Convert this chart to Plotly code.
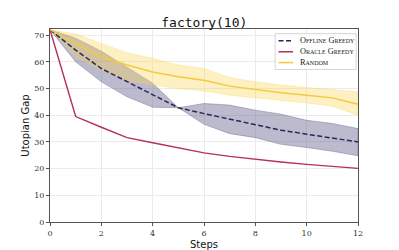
import plotly.graph_objects as go

steps = list(range(13))
offline_mean = [72, 64.4, 57.5, 52.5, 47.5, 42.8, 40.6, 38.6, 36.5, 34.4, 32.9, 31.5, 30.0]
offline_upper = [72, 68.8, 64.0, 58.1, 52.0, 42.8, 44.4, 43.8, 41.9, 40.4, 38.1, 36.9, 35.0]
offline_lower = [72, 60.0, 52.5, 46.9, 43.0, 42.8, 36.6, 33.1, 31.6, 29.1, 27.9, 26.5, 24.8]
oracle_mean = [72, 39.5, 35.5, 31.6, 29.7, 27.7, 25.9, 24.6, 23.5, 22.5, 21.6, 20.8, 20.1]
random_mean = [72, 66.9, 61.9, 58.8, 56.2, 54.4, 53.1, 50.9, 49.6, 48.4, 47.5, 46.5, 44.1]
random_upper = [72, 70.4, 66.9, 63.4, 61.3, 58.8, 57.5, 54.1, 52.5, 51.3, 50.4, 49.6, 48.8]
random_lower = [72, 62.0, 56.9, 53.1, 51.3, 50.0, 49.1, 47.5, 46.5, 45.6, 44.6, 43.4, 40.0]

names = ["Offline Greedy", "Oracle Greedy", "Random"]
colors = ["#2b2756", "#b3305f", "#f7c83c"]
dashes = ["5px,2.5px", "solid", "solid"]

fig = go.Figure()
fig.add_trace(go.Scatter(x=steps + steps[::-1], y=offline_upper + offline_lower[::-1],
                         fill="toself", fillcolor="rgba(88,82,130,0.40)",
                         line=dict(color="rgba(88,82,130,0.6)", width=0.6),
                         showlegend=False, hoverinfo="skip"))
fig.add_trace(go.Scatter(x=steps + steps[::-1], y=random_upper + random_lower[::-1],
                         fill="toself", fillcolor="rgba(250,212,80,0.35)",
                         line=dict(color="rgba(250,212,80,0.5)", width=0.6),
                         showlegend=False, hoverinfo="skip"))
for name, ys, col, dsh in zip(names, [offline_mean, oracle_mean, random_mean], colors, dashes):
    fig.add_trace(go.Scatter(x=steps, y=ys, mode="lines", name=name, showlegend=False,
                             line=dict(color=col, width=1.5 if dsh != "solid" else 1.4, dash=dsh)))

# manual compact legend (paper coordinates)
fig.add_shape(type="rect", xref="paper", yref="paper", x0=0.731, x1=0.994, y0=0.79, y1=0.976,
              line=dict(color="#cccccc", width=0.8), fillcolor="rgba(255,255,255,0.85)", layer="above")
row_y = [0.939, 0.882, 0.826]
for name, col, dsh, yy in zip(names, colors, dashes, row_y):
    fig.add_shape(type="line", xref="paper", yref="paper", x0=0.742, x1=0.789, y0=yy, y1=yy,
                  line=dict(color=col, width=1.5, dash=dsh), layer="above")
    fig.add_annotation(text=name, xref="paper", yref="paper", x=0.806, y=yy,
                       xanchor="left", yanchor="middle", showarrow=False,
                       font=dict(family="Liberation Serif", size=8.3, color="#222222",
                                 variant="small-caps"))

axis_common = dict(showline=True, linecolor="#555555", linewidth=1, mirror=True,
                   showgrid=True, gridcolor="#ebebeb", gridwidth=1, zeroline=False,
                   ticks="outside", ticklen=3, tickcolor="#555555", automargin=False,
                   tickfont=dict(family="DejaVu Serif", size=8, color="#333333"))

fig.update_layout(
    width=399, height=250,
    margin=dict(l=50, r=41, t=29, b=28),
    paper_bgcolor="white", plot_bgcolor="white",
    title=dict(text="factory(10)", x=0.512, xanchor="center", y=0.91, yanchor="middle",
               font=dict(family="DejaVu Sans Mono", size=13, color="#111111")),
    xaxis=dict(range=[0, 12], tickvals=[0, 2, 4, 6, 8, 10, 12],
               title=dict(text="Steps", standoff=5,
                          font=dict(family="DejaVu Sans", size=10, color="#111111")),
               **axis_common),
    yaxis=dict(range=[0, 72.3], tickvals=[0, 10, 20, 30, 40, 50, 60, 70],
               title=dict(text="Utopian Gap", standoff=2,
                          font=dict(family="DejaVu Sans", size=10, color="#111111")),
               **axis_common),
    showlegend=False,
)

fig.write_html("out.html", config={"displayModeBar": False},
               post_script="document.body.style.margin='0';document.body.style.overflow='hidden';")
